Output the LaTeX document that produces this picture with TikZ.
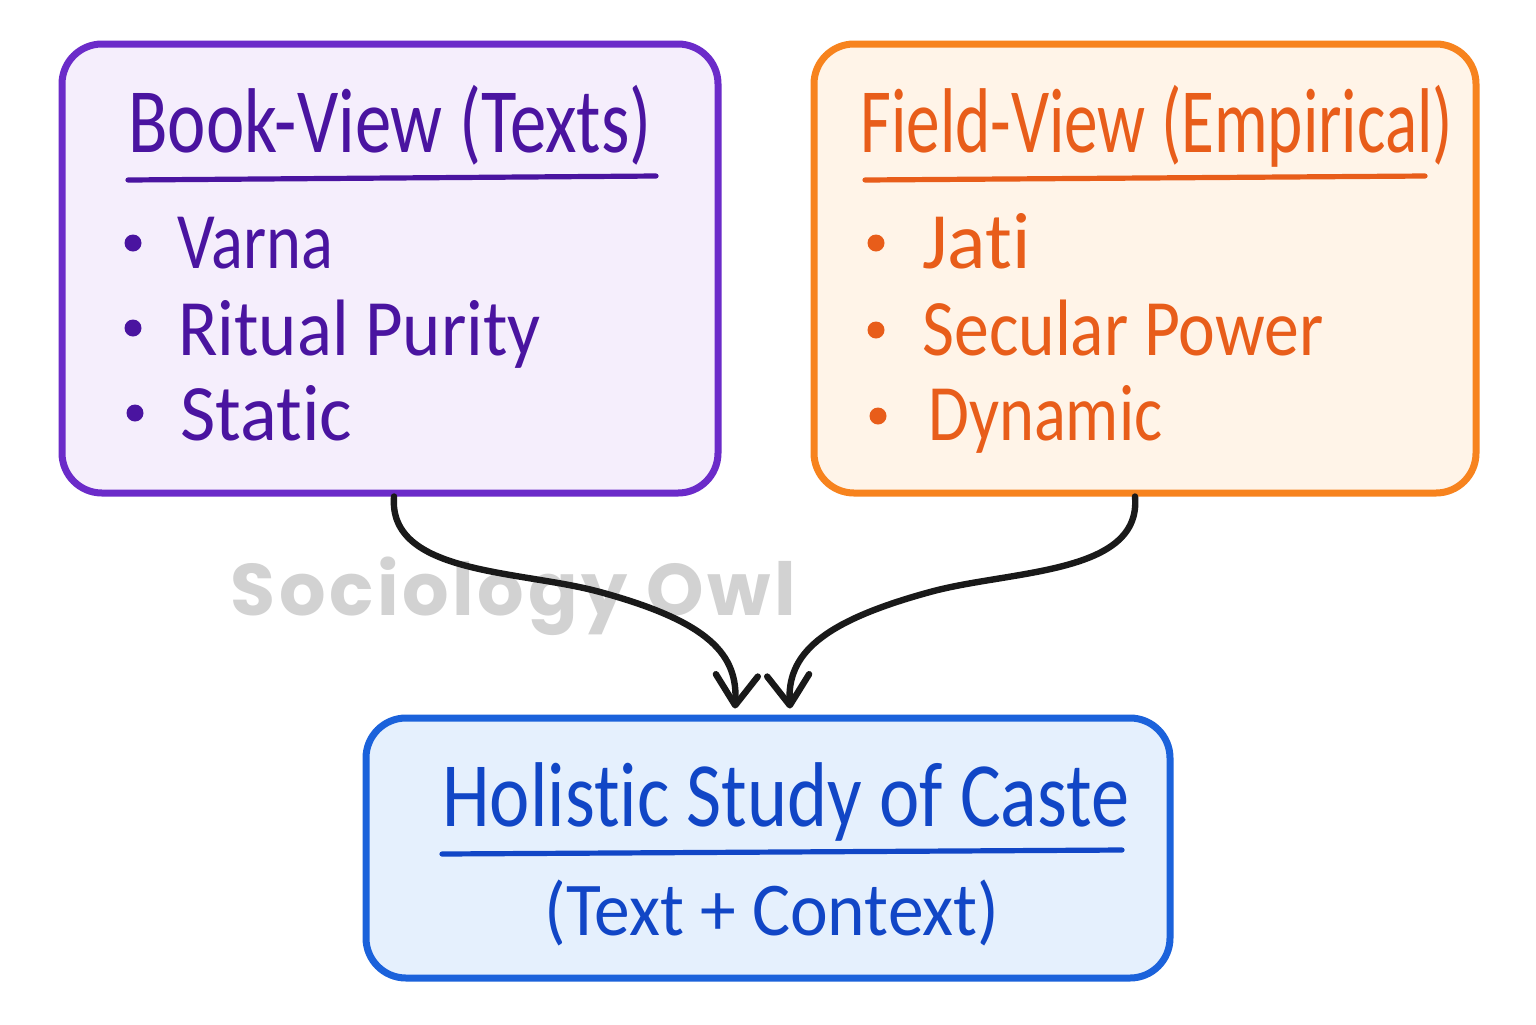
\documentclass[tikz,border=0pt]{standalone}
\usepackage{fontspec}
\setmainfont{Carlito}[RawFeature=-liga]
\newfontfamily\wmfont{Poppins}[LetterSpace=5]
\usetikzlibrary{arrows.meta,fit,calc}
\definecolor{purpB}{HTML}{6B2BC9}
\definecolor{purpT}{HTML}{4A14A0}
\definecolor{purpF}{HTML}{F5EEFC}
\definecolor{orB}{HTML}{F7831E}
\definecolor{orT}{HTML}{E85D1A}
\definecolor{orF}{HTML}{FFF4E8}
\definecolor{blB}{HTML}{1B62DB}
\definecolor{blT}{HTML}{1146C6}
\definecolor{blF}{HTML}{E5F0FD}
\definecolor{wmgray}{HTML}{D2D2D2}
\newcommand{\hw}[3]{\scalebox{#1}[1]{\fontsize{#2}{#2}\selectfont #3}}
\tikzset{
  panel/.style={draw=#1, line width=3.5pt, rounded corners=20pt, inner sep=0pt},
  title/.style={anchor=base west, inner sep=0pt},
  item/.style={anchor=base west, inner sep=0pt},
  uline/.style={line width=2.6pt, line cap=round},
  dot/.style={circle, fill=#1, minimum size=8.5pt, inner sep=0pt},
  flow/.style={line width=3.2pt, line cap=round, black!90,
    -{Straight Barb[length=15pt,width=21pt,line cap=round,line join=round]}}
}
\begin{document}
\begin{tikzpicture}[x=0.5pt,y=-0.5pt]
\path[fill=white,use as bounding box] (0,0) rectangle (1536,1024);

% panels
\node[panel=purpB, fill=purpF, fit={(62,44)(718,493)}] (book) {};
\node[panel=orB, fill=orF, fit={(814,44)(1476,493)}] (field) {};
\node[panel=blB, fill=blF, fit={(366,718)(1170,978)}] (holi) {};

% left panel text
\node[title, text=purpT] (bt) at (128,152) {\hw{0.79}{46}{Book-View (Texts)}};
\draw[uline, purpT] (128,180) -- (656,176);
\node[dot=purpT] (bd1) at (133,243) {};
\node[dot=purpT] (bd2) at (133,328) {};
\node[dot=purpT] (bd3) at (135,413) {};
\node[item, text=purpT] (b1) at (177,268) {\hw{0.83}{40}{Varna}};
\node[item, text=purpT] (b2) at (178,355) {\hw{0.91}{40}{Ritual Purity}};
\node[item, text=purpT] (b3) at (180,440) {\hw{0.96}{40}{Static}};

% right panel text
\node[title, text=orT] (ft) at (860,152) {\hw{0.73}{46}{Field-View (Empirical)}};
\draw[uline, orT] (865,180) -- (1425,176);
\node[dot=orT] (fd1) at (876,243) {};
\node[dot=orT] (fd2) at (876,330) {};
\node[dot=orT] (fd3) at (878,416) {};
\node[item, text=orT] (f1) at (922,268) {\hw{1.0}{40}{Jati}};
\node[item, text=orT] (f2) at (922,355) {\hw{0.87}{40}{Secular Power}};
\node[item, text=orT] (f3) at (928,440) {\hw{0.83}{40}{Dynamic}};

% bottom panel text
\node[title, text=blT] (ht) at (442,826) {\hw{0.83}{46}{Holistic Study of Caste}};
\draw[uline, blT] (442,854) -- (1122,850);
\node[anchor=base, inner sep=0pt, text=blT] (hs) at (772,935) {\hw{0.94}{38}{(Text + Context)}};

% watermark
\node[anchor=base west, inner sep=0pt, text=wmgray] (wm) at (230,615)
  {\resizebox{283pt}{!}{\wmfont\bfseries Sociology Owl}};

% connectors
\coordinate (h1) at ($(holi.north)+(-33,-6)$);
\coordinate (h2) at ($(holi.north)+(22,-6)$);
\draw[flow] ([xshift=2pt]book.south) .. controls (388,575) and (520,570) .. (600,592)
  .. controls (710,622) and (738,655) .. (h1);
\draw[flow] ([xshift=-5pt]field.south) .. controls (1142,575) and (1010,570) .. (930,592)
  .. controls (820,622) and (787,655) .. (h2);
\end{tikzpicture}
\end{document}
